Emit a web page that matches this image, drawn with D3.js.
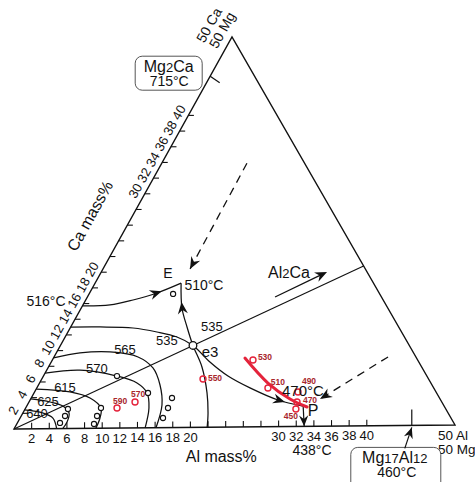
<!DOCTYPE html>
<html><head><meta charset="utf-8">
<script src="https://cdn.jsdelivr.net/npm/d3@7"></script>
<style>
body{margin:0;background:#fff}
svg{display:block}
text{font-family:"Liberation Sans",Arial,Helvetica,sans-serif;fill:#111}
</style>
</head><body>
<svg id="chart" width="475" height="482"></svg>
<script>
// Mg-rich corner of the Mg–Al–Ca liquidus projection; compositions are [Al mass%, Ca mass%]
const tickValues = d3.range(2, 41, 2);
const alLabels = [2, 4, 6, 8, 10, 12, 14, 16, 18, 20, 30, 32, 34, 36, 38, 40];
const caLabels = [2, 4, 6, 8, 10, 12, 14, 16, 18, 20, 30, 32, 34, 36, 38, 40];

// liquidus isotherms (°C)
const iso640 = [[0, 2.43], [2.29, 2.02], [3.74, 1.36], [4.84, 0]];
const iso625 = [[0, 3.83], [2.39, 3.42], [4.12, 2.89], [5.26, 1.99], [5.6, 0.84], [5.52, 0]];
const iso615 = [[0, 5.1], [4.04, 4.68], [6.7, 3.88], [8.58, 2.59], [9.1, 1.31], [9.28, 0]];
const iso570 = [[0, 7.14], [3.78, 7.48], [8.38, 6.67], [11.1, 5.76], [12.88, 4.47], [14.05, 2.53], [14.87, 0]];
const iso565 = [[0, 9.06], [2.7, 9.67], [6.06, 9.76], [9.57, 9.09], [11.97, 7.66], [13.85, 5.47], [15.34, 2.91], [16.1, 0]];

// univariant valleys
const valley516toE = [[0, 15.7], [3.08, 15.79], [5.39, 16.4], [7.67, 17.27], [9.8, 18.5]];
const valleyEtoBase = [[9.8, 18.5], [11.47, 15.32], [13.25, 12.88], [15.1, 10.5], [17.49, 7.73], [19.71, 4.4], [21.1, 1.82], [21.9, 0]];
const valley535toP = [[0, 13.0], [3.34, 12.98], [7.16, 12.81], [10.14, 12.27], [12.74, 11.6], [15.1, 10.5], [18.08, 8.36], [21.03, 6.54], [24.29, 4.99], [28.24, 3.41], [31.5, 2.6]];
const tieMgAl2Ca = [[0, 0], [29.5, 20.5]];

// invariant points
const pointE = [9.8, 18.5];
const pointE3 = [15.1, 10.5];
const pointP = [31.5, 2.6];
const pointPBase = [32.9, 0];

// measured alloys (black) and the red cooling path with its temperatures
const alloys = [[8.38, 6.67], [12.99, 4.46], [16.04, 3.79], [16.22, 2.51], [16.28, 1.24], [8.58, 2.59], [8.64, 1.57], [8.8, 0.55], [4.88, 2.5], [4.99, 1.61], [4.86, 0.72], [9.57, 17.13]];
const redPoints = [[10.41, 2.57], [12.08, 3.32], [18.37, 6.19], [22.86, 8.57], [26.34, 4.96], [30.02, 4.41], [30.54, 3.13], [30.86, 2.23]];
const redTemps = ["590", "570", "550", "530", "510", "490", "470", "450"];
const redPath = [[21.82, 8.83], [26.02, 5.6], [29.55, 3.53], [32.0, 2.48]];

// direction arrows along valleys [from, tip]
const flowArrows = [
  [[7.0, 17.0], [8.1, 17.5]],
  [[12.04, 14.41], [11.04, 16.09]],
  [[27.44, 3.67], [29.17, 3.14]]
];
const dashedArrows = [
  [[9.7, 33.8], [9.92, 20.31]],
  [[38.06, 8.8], [32.97, 3.49]]
];
const al2caArrow = [[21.38, 16.62], [25.72, 19.77]];

const isoLabels = [
  ["640", [1.61, 2.02]], ["625", [2.1, 3.55]], ["615", [3.21, 5.2]],
  ["570", [5.59, 7.72]], ["565", [7.64, 10.0]], ["535", [11.79, 11.23]], ["535", [16.03, 12.97]]
];
const pointLabels = [
  ["E", [7.66, 19.82], 14], ["510\u00B0C", [12.52, 18.24], 14], ["516\u00B0C", [-4.46, 16.37], 14],
  ["e3", [17.39, 9.77], 15], ["470\u00B0C", [30.46, 4.66], 15], ["P", [32.93, 1.96], 16],
  ["438\u00B0C", [35.29, -3.04], 14]
];
const mg2caCa = 45;
const mg17al12Al = 45.1;

// ---- layout ----
const svg = d3.select("#chart");
const origin = [14, 429];
const alX = d3.scaleLinear().domain([0, 50]).range([0, 441]);
const alY = d3.scaleLinear().domain([0, 50]).range([0, -4]);
const caX = d3.scaleLinear().domain([0, 50]).range([0, 218]);
const caY = d3.scaleLinear().domain([0, 50]).range([0, -392]);
const proj = ([al, ca]) => [origin[0] + alX(al) + caX(ca), origin[1] + alY(al) + caY(ca)];

const redOffsets = [[3, -7], [3, -8], [12, -1], [12, -3], [10, -6], [11, -11], [13, -2], [-5, 7]];

const smooth = d3.line().x(d => proj(d)[0]).y(d => proj(d)[1]).curve(d3.curveCatmullRom.alpha(0.5));
const straight = d3.line().x(d => proj(d)[0]).y(d => proj(d)[1]);

function arrowHead(tip, from, size = 11) {
  const ang = Math.atan2(tip[1] - from[1], tip[0] - from[0]) * 180 / Math.PI;
  svg.append("path")
    .attr("d", `M0,0L${-size},${-size * 0.42}L${-size * 0.68},0L${-size},${size * 0.42}Z`)
    .attr("transform", `translate(${tip[0]},${tip[1]}) rotate(${ang})`)
    .attr("fill", "#111");
}

// triangle frame
svg.append("path")
  .attr("d", straight([[0, 0], [50, 0], [0, 50]]) + "Z")
  .attr("fill", "none").attr("stroke", "#111").attr("stroke-width", 1.4);

// Al axis ticks and labels
tickValues.forEach(v => {
  const p = proj([v, 0]);
  svg.append("line").attr("x1", p[0]).attr("y1", p[1]).attr("x2", p[0]).attr("y2", p[1] - 6)
    .attr("stroke", "#111").attr("stroke-width", 1.1);
});
alLabels.forEach(v => {
  const p = proj([v, 0]);
  svg.append("text").attr("x", p[0]).attr("y", p[1] + 14.5).attr("text-anchor", "middle")
    .attr("font-size", 13).text(v);
});
// Ca axis ticks and labels
tickValues.forEach(v => {
  const p = proj([0, v]);
  svg.append("line").attr("x1", p[0]).attr("y1", p[1]).attr("x2", p[0] + 5.5).attr("y2", p[1])
    .attr("stroke", "#111").attr("stroke-width", 1.1);
});
caLabels.forEach(v => {
  const p = proj([0, v]);
  svg.append("text").attr("text-anchor", "middle").attr("dominant-baseline", "central")
    .attr("font-size", 13)
    .attr("transform", `translate(${p[0] - 9.5},${p[1] - 3}) rotate(-61)`).text(v);
});

// axis titles and corner labels
{
  const p = proj([0, 25]);
  svg.append("text").attr("text-anchor", "middle").attr("dominant-baseline", "central")
    .attr("font-size", 16).attr("transform", `translate(${p[0] - 33},${p[1] - 17}) rotate(-61)`)
    .text("Ca mass%");
  const q = proj([23.5, 0]);
  svg.append("text").attr("x", q[0]).attr("y", q[1] + 35).attr("text-anchor", "middle")
    .attr("font-size", 16).text("Al mass%");
  const apex = proj([0, 50]);
  svg.append("text").attr("text-anchor", "middle").attr("dominant-baseline", "central").attr("font-size", 14)
    .attr("transform", `translate(${apex[0] - 23},${apex[1] - 12}) rotate(-61)`).text("50 Ca");
  svg.append("text").attr("text-anchor", "middle").attr("dominant-baseline", "central").attr("font-size", 14)
    .attr("transform", `translate(${apex[0] - 10},${apex[1] - 7}) rotate(-61)`).text("50 Mg");
  const br = proj([50, 0]);
  svg.append("text").attr("x", br[0] - 17).attr("y", br[1] + 15).attr("font-size", 13.5).text("50 Al");
  svg.append("text").attr("x", br[0] - 17).attr("y", br[1] + 29).attr("font-size", 13.5).text("50 Mg");
}

// Mg–Al2Ca section line
svg.append("path").attr("d", straight(tieMgAl2Ca)).attr("fill", "none").attr("stroke", "#111").attr("stroke-width", 1.2);

// isotherms and valleys
[iso640, iso625, iso615, iso570, iso565, valley516toE, valleyEtoBase, valley535toP].forEach(c => {
  svg.append("path").attr("d", smooth(c)).attr("fill", "none").attr("stroke", "#111").attr("stroke-width", 1.25);
});

// P down to the Al axis
{
  const a = proj(pointP), b = proj(pointPBase);
  svg.append("line").attr("x1", a[0]).attr("y1", a[1]).attr("x2", b[0]).attr("y2", b[1])
    .attr("stroke", "#111").attr("stroke-width", 1.2);
  arrowHead(b, a, 11);
}

flowArrows.forEach(([f, t]) => arrowHead(proj(t), proj(f), 12));

dashedArrows.forEach(([f, t]) => {
  svg.append("path").attr("d", straight([f, t])).attr("fill", "none").attr("stroke", "#111")
    .attr("stroke-width", 1.3).attr("stroke-dasharray", "8,6");
  arrowHead(proj(t), proj(f), 12);
});

// Al2Ca label and arrow
{
  const a = proj(al2caArrow[0]), b = proj(al2caArrow[1]);
  svg.append("line").attr("x1", a[0]).attr("y1", a[1]).attr("x2", b[0] - 4).attr("y2", b[1] + 2)
    .attr("stroke", "#111").attr("stroke-width", 1.3);
  arrowHead(b, a, 12);
  const t = proj([21.45, 19.68]);
  const tx = svg.append("text").attr("x", t[0]).attr("y", t[1] + 5).attr("text-anchor", "middle").attr("font-size", 16);
  tx.append("tspan").text("Al");
  tx.append("tspan").attr("font-size", 13).text("2");
  tx.append("tspan").text("Ca");
}

// red cooling path
svg.append("path").attr("d", smooth(redPath)).attr("fill", "none").attr("stroke", "#e4233b")
  .attr("stroke-width", 3).attr("stroke-linecap", "round");

// measured alloys
alloys.forEach(d => {
  const p = proj(d);
  svg.append("circle").attr("cx", p[0]).attr("cy", p[1]).attr("r", 2.6)
    .attr("fill", "#fff").attr("stroke", "#111").attr("stroke-width", 1.1);
});
redPoints.forEach((d, i) => {
  const p = proj(d);
  svg.append("circle").attr("cx", p[0]).attr("cy", p[1]).attr("r", 3)
    .attr("fill", "none").attr("stroke", "#e4233b").attr("stroke-width", 1.4);
  svg.append("text").attr("x", p[0] + redOffsets[i][0]).attr("y", p[1] + redOffsets[i][1])
    .attr("text-anchor", "middle").attr("dominant-baseline", "central")
    .attr("font-size", 8.5).attr("font-weight", "bold").style("fill", "#a8262c").text(redTemps[i]);
});

// e3 eutectic marker
{
  const p = proj(pointE3);
  svg.append("circle").attr("cx", p[0]).attr("cy", p[1]).attr("r", 3.8)
    .attr("fill", "#fff").attr("stroke", "#111").attr("stroke-width", 1.3);
}

// isotherm and point labels
isoLabels.forEach(([t, c]) => {
  const p = proj(c);
  svg.append("text").attr("x", p[0]).attr("y", p[1]).attr("text-anchor", "middle")
    .attr("dominant-baseline", "central").attr("font-size", 13).text(t);
});
pointLabels.forEach(([t, c, fs]) => {
  const p = proj(c);
  svg.append("text").attr("x", p[0]).attr("y", p[1]).attr("text-anchor", "middle")
    .attr("dominant-baseline", "central").attr("font-size", fs).text(t);
});

// Mg2Ca marker on the Ca axis
{
  const p = proj([0, mg2caCa]);
  svg.append("line").attr("x1", p[0]).attr("y1", p[1]).attr("x2", p[0] + 9.5).attr("y2", p[1] + 6.5)
    .attr("stroke", "#111").attr("stroke-width", 1.2);
  const bx = p[0] - 75, by = p[1] - 20;
  svg.append("rect").attr("x", bx).attr("y", by).attr("width", 67).attr("height", 34).attr("rx", 7)
    .attr("fill", "#fff").attr("stroke", "#555").attr("stroke-width", 1);
  const t1 = svg.append("text").attr("x", bx + 33.5).attr("y", by + 16).attr("text-anchor", "middle").attr("font-size", 16);
  t1.append("tspan").text("Mg");
  t1.append("tspan").attr("font-size", 13).text("2");
  t1.append("tspan").text("Ca");
  svg.append("text").attr("x", bx + 34).attr("y", by + 30).attr("text-anchor", "middle").attr("font-size", 14).text("715\u00B0C");
}

// Mg17Al12 marker on the Al axis
{
  const p = proj([mg17al12Al, 0]);
  svg.append("line").attr("x1", p[0]).attr("y1", p[1]).attr("x2", p[0]).attr("y2", p[1] - 16)
    .attr("stroke", "#111").attr("stroke-width", 1.2);
  const bx = p[0] - 61, by = p[1] + 22;
  svg.append("rect").attr("x", bx).attr("y", by).attr("width", 90).attr("height", 45).attr("rx", 7)
    .attr("fill", "#fff").attr("stroke", "#555").attr("stroke-width", 1);
  const from = [p[0] - 7, p[1] + 23], tip = [p[0], p[1] + 2];
  svg.append("line").attr("x1", from[0]).attr("y1", from[1]).attr("x2", tip[0]).attr("y2", tip[1])
    .attr("stroke", "#111").attr("stroke-width", 1.2);
  arrowHead(tip, from, 11);
  const t1 = svg.append("text").attr("x", bx + 44).attr("y", by + 16).attr("text-anchor", "middle").attr("font-size", 16);
  t1.append("tspan").text("Mg");
  t1.append("tspan").attr("font-size", 13).text("17");
  t1.append("tspan").text("Al");
  t1.append("tspan").attr("font-size", 13).text("12");
  svg.append("text").attr("x", bx + 46).attr("y", by + 30).attr("text-anchor", "middle").attr("font-size", 14).text("460\u00B0C");
}
</script>
</body></html>
